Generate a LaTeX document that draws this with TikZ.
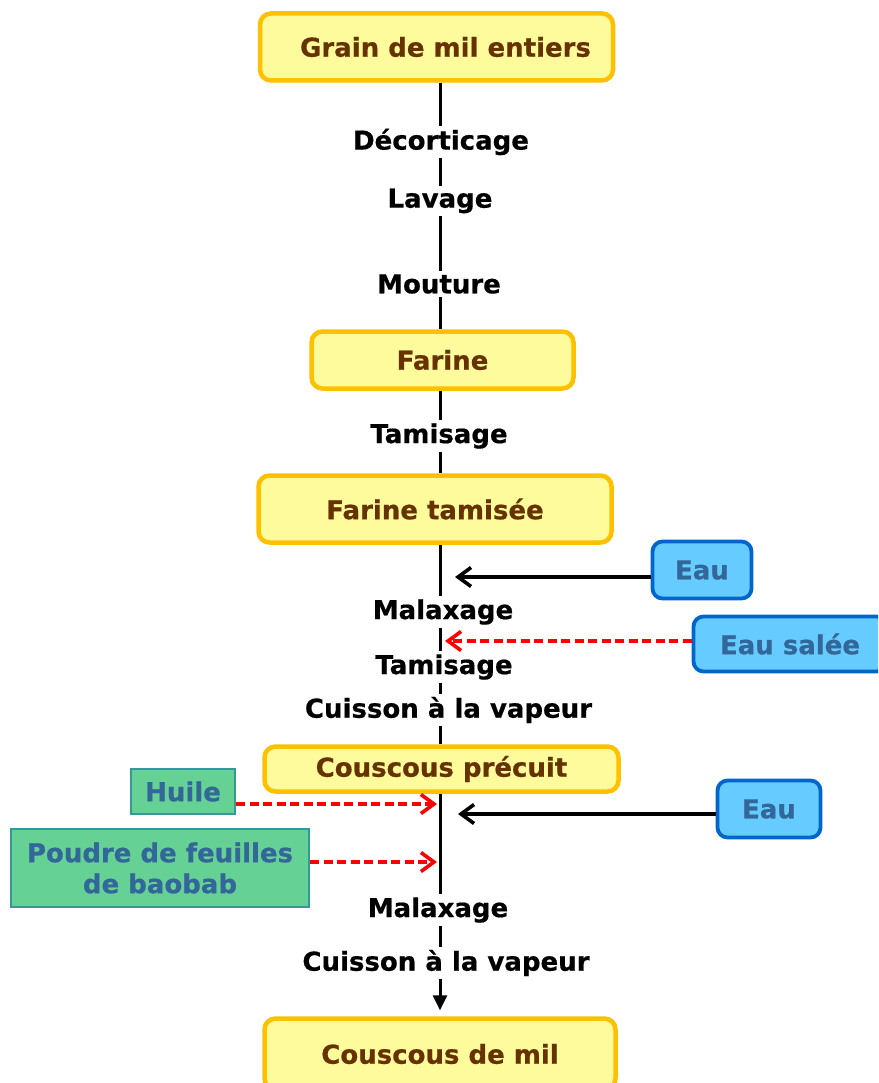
\documentclass[tikz,border=0pt]{standalone}
\usepackage{fontspec}
\setmainfont{DejaVu Sans}[BoldFeatures={FakeBold=0.6}]
\usetikzlibrary{arrows.meta}
\definecolor{boxfill}{HTML}{FDFB9C}
\definecolor{boxedge}{HTML}{FFC000}
\definecolor{boxtext}{HTML}{663300}
\definecolor{waterfill}{HTML}{66CCFF}
\definecolor{wateredge}{HTML}{0066CC}
\definecolor{inputtext}{HTML}{336699}
\definecolor{greenfill}{HTML}{66D194}
\definecolor{greenedge}{HTML}{339999}
\begin{document}
\begin{tikzpicture}[x=1pt,y=-1pt,
  font=\fontsize{26}{31}\selectfont\bfseries,
  product/.style={draw=boxedge, fill=boxfill, line width=4.5pt, rounded corners=11pt,
    text=boxtext, inner sep=0pt},
  water/.style={draw=wateredge, fill=waterfill, line width=3.8pt, rounded corners=10pt,
    text=inputtext, inner sep=0pt},
  additive/.style={draw=greenedge, fill=greenfill, line width=2.8pt,
    text=inputtext, inner sep=0pt, align=center},
  stage/.style={text=black, inner sep=3pt},
  flow/.style={line width=3pt, black},
  feed/.style={line width=3.6pt, black, -{Straight Barb[length=13pt,width=19pt]}},
  dosage/.style={feed, red, dash pattern=on 9pt off 4.5pt}]
\clip (0,0) rectangle (878,1083);
\fill[white] (0,0) rectangle (878,1083);
\coordinate (X) at (440,0);

% main products
\node[product, minimum width=353pt, minimum height=67pt] (grain) at (436.5,47) {\hspace*{18pt}Grain de mil entiers};
\node[product, minimum width=262pt, minimum height=57pt] (farine) at (442.5,360) {Farine};
\node[product, minimum width=353pt, minimum height=67pt] (tamisee) at (435,509) {Farine tamisée};
\node[product, minimum width=354pt, minimum height=45pt] (precuit) at (441.5,769) {Couscous précuit};
\node[product, minimum width=351pt, minimum height=71pt] (mil) at (440,1054) {Couscous de mil};

% unit operations
\node[stage] (dec) at (441,142) {Décorticage};
\node[stage] (lav) at (440,201) {Lavage};
\node[stage] (mou) at (439,284) {Mouture};
\node[stage] (tam1) at (439,436) {Tamisage};
\node[stage] (mal1) at (443,612) {Malaxage};
\node[stage] (tam2) at (444,667) {Tamisage};
\node[stage] (cui1) at (448.5,710) {Cuisson à la vapeur};
\node[stage] (mal2) at (438,910) {Malaxage};
\node[stage] (cui2) at (446,963) {Cuisson à la vapeur};

% ingredients
\node[water, minimum width=99pt, minimum height=57pt] (eau1) at (702,570) {Eau};
\node[water, minimum width=193pt, minimum height=55pt] (salee) at (790,644) {Eau salée};
\node[water, minimum width=103pt, minimum height=57pt] (eau2) at (769,809) {Eau};
\node[additive, minimum width=104pt, minimum height=45pt] (huile) at (183,791.5) {Huile};
\node[additive, minimum width=298pt, minimum height=78pt] (poudre) at (160,868) {Poudre de feuilles\\de baobab};

% main process line
\draw[flow] (grain.south -| X) -- (dec.north -| X);
\draw[flow] (dec.south -| X) -- (lav.north -| X);
\draw[flow] (lav.south -| X) -- (mou.north -| X);
\draw[flow] (mou.south -| X) -- (farine.north -| X);
\draw[flow] (farine.south -| X) -- (tam1.north -| X);
\draw[flow] (tam1.south -| X) -- (tamisee.north -| X);
\draw[flow] (tamisee.south -| X) -- (mal1.north -| X);
\draw[flow] (mal1.south -| X) -- (tam2.north -| X);
\draw[flow] (tam2.south -| X) -- (cui1.north -| X);
\draw[flow] (cui1.south -| X) -- (precuit.north -| X);
\draw[flow] (precuit.south -| X) -- (mal2.north -| X);
\draw[flow] (mal2.south -| X) -- (cui2.north -| X);
\draw[flow, -{Triangle[length=15pt,width=14pt]}, shorten >=6pt] (cui2.south -| X) -- (mil.north -| X);

% inputs
\coordinate (in1) at (455,577);
\coordinate (in2) at (445,641);
\coordinate (in3) at (437,804);
\coordinate (in4) at (458,814);
\coordinate (in5) at (437,862);
\draw[feed] (eau1.west |- in1) -- (in1);
\draw[dosage] (salee.west |- in2) -- (in2);
\draw[dosage] (huile.east |- in3) -- (in3);
\draw[feed] (eau2.west |- in4) -- (in4);
\draw[dosage] (poudre.east |- in5) -- (in5);
\end{tikzpicture}
\end{document}
